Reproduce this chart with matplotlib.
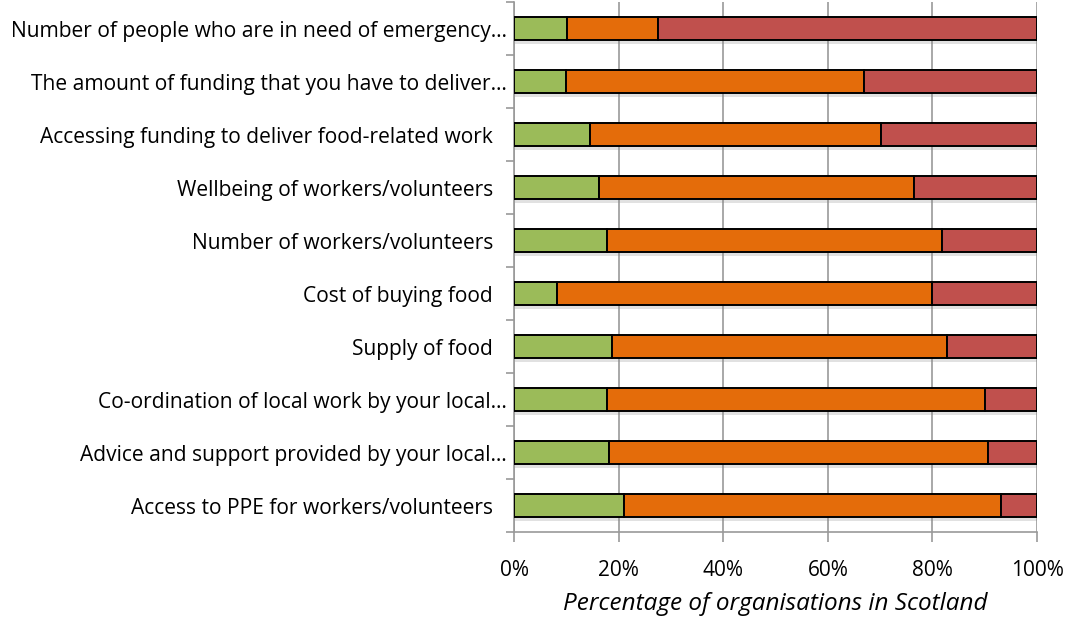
import matplotlib.pyplot as plt
import matplotlib.patheffects as pe
import matplotlib.transforms as mtransforms
import numpy as np

# categories listed top to bottom
categories = [
    'Number of people who are in need of emergency…',
    'The amount of funding that you have to deliver…',
    'Accessing funding to deliver food-related work',
    'Wellbeing of workers/volunteers',
    'Number of workers/volunteers',
    'Cost of buying food',
    'Supply of food',
    'Co-ordination of local work by your local…',
    'Advice and support provided by your local…',
    'Access to PPE for workers/volunteers',
]
# percentages per segment (green / orange / red)
green = [10.1, 9.9, 14.5, 16.3, 17.8, 8.2, 18.8, 17.8, 18.1, 21.0]
orange = [17.4, 57.0, 55.7, 60.1, 64.1, 71.7, 63.9, 72.3, 72.6, 72.1]
red = [72.5, 33.1, 29.8, 23.6, 18.1, 20.1, 17.3, 9.9, 9.3, 6.9]

colors = ['#9BBB59', '#E46C0A', '#C0504D']
tick_vals = [0, 20, 40, 60, 80, 100]
tick_labels = ['0%', '20%', '40%', '60%', '80%', '100%']

plt.rcParams['font.family'] = ['Open Sans', 'DejaVu Sans']

fig = plt.figure(figsize=(10.77, 6.27), dpi=100)
ax = fig.add_axes([0.4773, 0.1515, 0.4856, 0.8453])

y = np.arange(len(categories))[::-1]
shadow = [pe.SimplePatchShadow(offset=(1, -3), shadow_rgbFace='#888888', alpha=0.25), pe.Normal()]

left = np.zeros(len(categories))
for vals, c in zip([green, orange, red], colors):
    vals = np.array(vals)
    bars = ax.barh(y, vals, left=left, height=0.42, color=c,
                   edgecolor='black', linewidth=1.4, zorder=3)
    for b in bars:
        b.set_path_effects(shadow)
    left = left + vals

ax.set_xlim(0, 100)
ax.set_ylim(-0.5, len(categories) - 0.5)
ax.set_xticks(tick_vals)
ax.set_xticklabels(tick_labels, fontsize=15)
ax.set_yticks(y)
ax.set_yticklabels(categories, fontsize=15.1)
ax.tick_params(axis='y', length=0, pad=5)
# full labels sit a little further from the axis than the truncated ones
shift = mtransforms.ScaledTranslation(-14 / 100, 0, fig.dpi_scale_trans)
for lab in ax.get_yticklabels():
    if not lab.get_text().endswith('…'):
        lab.set_transform(lab.get_transform() + shift)
ax.set_yticks(np.arange(-0.5, len(categories), 1), minor=True)
ax.tick_params(axis='y', which='minor', length=6, color='#999999', width=1.2)
ax.tick_params(axis='x', length=7, color='#999999', width=1.2, pad=13)

ax.grid(axis='x', color='#999999', linewidth=1.2, zorder=0)
for s in ['top', 'right']:
    ax.spines[s].set_visible(False)
for s in ['left', 'bottom']:
    ax.spines[s].set_color('#999999')
    ax.spines[s].set_linewidth(1.2)

ax.set_xlabel('Percentage of organisations in Scotland', fontsize=17.5,
              fontstyle='italic', labelpad=8)

fig.savefig('out.png', dpi=100)
